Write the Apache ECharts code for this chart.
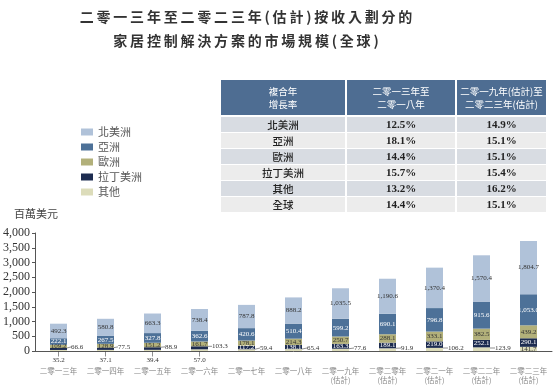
<!DOCTYPE html>
<html><head><meta charset="utf-8">
<script src="https://cdn.jsdelivr.net/npm/echarts@6/dist/echarts.min.js"></script>
<style>html,body{margin:0;padding:0;background:#fff}#c{width:554px;height:385px}</style>
</head><body><div id="c"></div>
<script>
const categories = ['二零一三年','二零一四年','二零一五年','二零一六年','二零一七年','二零一八年','二零一九年\n(估計)','二零二零年\n(估計)','二零二一年\n(估計)','二零二二年\n(估計)','二零二三年\n(估計)'];
const northAmerica = [492.3, 580.8, 663.3, 738.4, 787.8, 888.2, 1035.5, 1190.6, 1370.4, 1570.4, 1804.7];
const asia = [222.1, 267.5, 327.8, 362.6, 420.6, 510.4, 599.2, 690.1, 796.8, 915.6, 1053.0];
const europe = [109.2, 128.9, 151.2, 161.7, 178.1, 214.3, 250.7, 288.1, 333.1, 382.5, 439.2];
const latinAmerica = [66.6, 77.5, 88.9, 103.3, 117.2, 138.1, 163.3, 189.1, 219.0, 252.1, 290.1];
const others = [35.2, 37.1, 39.4, 57.0, 59.4, 65.4, 77.6, 91.9, 106.2, 123.9, 141.7];
const totals = [925.4, 1091.8, 1270.6, 1423.0, 1563.1, 1816.4, 2126.3, 2449.7, 2825.6, 3244.6, 3728.8];

const cagrHeader = ['複合年\n增長率', '二零一三年至\n二零一八年', '二零一九年(估計)至\n二零二三年(估計)'];
const cagrRegions = ['北美洲','亞洲','歐洲','拉丁美洲','其他','全球'];
const cagr2013to2018 = ['12.5%','18.1%','14.4%','15.7%','13.2%','14.4%'];
const cagr2019to2023 = ['14.9%','15.1%','15.1%','15.4%','16.2%','15.1%'];

const titleLines = ['二零一三年至二零二三年(估計)按收入劃分的', '家居控制解決方案的市場規模(全球)'];
const unitLabel = '百萬美元';

const fmt = v => Number(v).toLocaleString('en-US',{minimumFractionDigits:1, maximumFractionDigits:1});
const spaced = s => s.split('').join('\u2009');
const serif = '"Liberation Serif", "DejaVu Serif", serif';
const cjk = '"Noto Sans CJK TC", "Noto Sans CJK SC", sans-serif';

const colors = {na:'#b0c2d9', asia:'#4d7198', eu:'#b2b07a', latam:'#1d2c50', oth:'#dcdcba'};

function mkSeries(name, data, color, txtColor, layoutFn) {
  const s = {
    name, type:'bar', stack:'t', data, barWidth:17,
    itemStyle:{color},
    label:{show:true, position:'inside', fontSize:7, fontFamily:serif, color:txtColor, formatter:p=>fmt(p.value)},
    emphasis:{disabled:true}
  };
  if (layoutFn) {
    s.labelLayout = layoutFn;
    s.labelLine = {show:true, length2:0, lineStyle:{color:'#444', width:0.6}};
  }
  return s;
}

// graphic: titles, table, unit label
const g = [];
titleLines.forEach((t, i) => {
  g.push({type:'text', x:246, y:17 + i*24, style:{text:spaced(t), fill:'#333', font:'bold 14px '+cjk, align:'center', verticalAlign:'middle'}, silent:true});
});
const colEdges = [221, 346, 456, 547];
for (let c = 0; c < 3; c++) {
  const x0 = colEdges[c] + (c>0?1:0), x1 = colEdges[c+1] - 1;
  g.push({type:'rect', shape:{x:x0, y:80, width:x1-x0, height:35}, style:{fill:'#4e6d92'}, silent:true});
  g.push({type:'text', x:(x0+x1)/2, y:97.5, style:{text:cagrHeader[c], fill:'#fff', font:'9.5px '+cjk, align:'center', verticalAlign:'middle', lineHeight:13}, silent:true});
  for (let r = 0; r < cagrRegions.length; r++) {
    const y0 = 117 + r*16;
    g.push({type:'rect', shape:{x:x0, y:y0, width:x1-x0, height:15}, style:{fill: r%2===0 ? '#d8dce2' : '#ececec'}, silent:true});
    const t = c===0 ? cagrRegions[r] : (c===1 ? cagr2013to2018[r] : cagr2019to2023[r]);
    g.push({type:'text', x:(x0+x1)/2, y:y0+8, style:{text:t, fill:'#222', font: c===0 ? '500 10.5px '+cjk : 'bold 11px '+serif, align:'center', verticalAlign:'middle'}, silent:true});
  }
}
g.push({type:'text', x:14, y:214, style:{text:unitLabel, fill:'#444', font:'11px '+cjk, verticalAlign:'middle'}, silent:true});

const latamData = latinAmerica.map((v, i) => i <= 3 ? {value:v, label:{color:'#333'}} : v);

const chart = echarts.init(document.getElementById('c'), null, {renderer:'canvas'});
chart.setOption({
  animation:false,
  legend:{
    data:['北美洲','亞洲','歐洲','拉丁美洲','其他'], orient:'vertical', left:76, top:121,
    itemWidth:12, itemHeight:7, itemGap:3, icon:'rect',
    textStyle:{fontSize:11, color:'#555', fontFamily:cjk, lineHeight:12}, selectedMode:false
  },
  grid:{left:33, right:2, top:233, bottom:33},
  xAxis:{
    type:'category', data:categories,
    axisLine:{lineStyle:{color:'#555', width:1}}, axisTick:{show:false},
    axisLabel:{fontSize:7.5, color:'#888', fontFamily:cjk, margin:16, lineHeight:9, interval:0}
  },
  yAxis:{
    type:'value', min:0, max:4000, interval:500,
    axisLine:{show:true, lineStyle:{color:'#555'}}, axisTick:{show:true, length:3, lineStyle:{color:'#555'}},
    splitLine:{show:false},
    axisLabel:{fontSize:12, color:'#333', fontFamily:serif, margin:5, formatter:v=>Number(v).toLocaleString('en-US')}
  },
  graphic:g,
  series:[
    mkSeries('其他', others, colors.oth, '#333', p => {
      if (p.dataIndex <= 3) return {x:p.rect.x+p.rect.width/2, y:360, align:'center', verticalAlign:'middle'};
      if (p.dataIndex <= 9) return {x:p.rect.x+p.rect.width+5, y:p.rect.y+p.rect.height-3, align:'left', verticalAlign:'middle'};
      return {};
    }),
    mkSeries('拉丁美洲', latamData, colors.latam, '#fff', p => {
      if (p.dataIndex <= 3) return {x:p.rect.x+p.rect.width+4, y:p.rect.y+p.rect.height-3, align:'left', verticalAlign:'middle'};
      return {};
    }),
    mkSeries('歐洲', europe, colors.eu, '#333'),
    mkSeries('亞洲', asia, colors.asia, '#fff'),
    mkSeries('北美洲', northAmerica, colors.na, '#333'),
    {name:'合計', type:'line', data:totals, symbol:'none', lineStyle:{opacity:0}, silent:true,
     label:{show:true, position:'top', distance:2, fontSize:7, fontFamily:serif, color:'#333', formatter:p=>fmt(p.value)}, z:5}
  ]
});
</script></body></html>
